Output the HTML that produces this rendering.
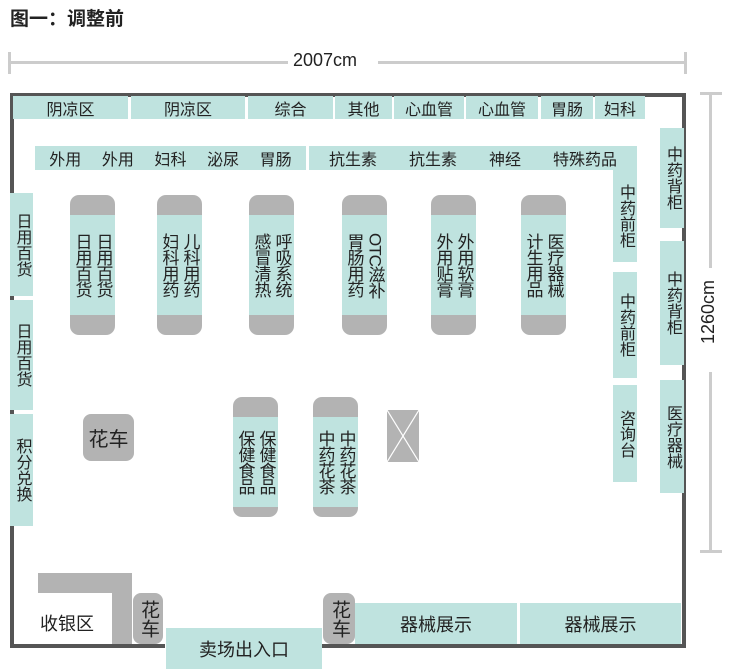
<!DOCTYPE html>
<html><head><meta charset="utf-8"><style>
body{margin:0;width:732px;height:669px;background:#fff;position:relative;overflow:hidden;font-family:"Liberation Sans","Noto Sans CJK SC",sans-serif;color:#222}
div{position:absolute;box-sizing:border-box}
.t{background:#bfe3df;display:flex;align-items:center;justify-content:center;font-size:16px}
.v{writing-mode:vertical-rl;line-height:18px}
.g{background:#b3b3b3}
.w{background:#555}
.sh{width:45px;border-radius:9px;overflow:hidden;background:#b3b3b3}
.sh .in{left:0;right:0;background:#bfe3df;display:flex;align-items:center;justify-content:center}
.sh .in span{writing-mode:vertical-rl;font-size:17px;line-height:21px;letter-spacing:-1px;white-space:nowrap}
</style></head><body>
<div style="left:10px;top:4px;font-size:19px;font-weight:bold">图一：调整前</div>
<!-- horizontal dimension -->
<div style="left:8px;top:52px;width:3px;height:22px;background:#ccc"></div>
<div style="left:684px;top:52px;width:3px;height:22px;background:#ccc"></div>
<div style="left:10px;top:61px;width:278px;height:3px;background:#ccc"></div>
<div style="left:378px;top:61px;width:307px;height:3px;background:#ccc"></div>
<div style="left:293px;top:50px;font-size:18px">2007cm</div>
<!-- vertical dimension -->
<div style="left:700px;top:92px;width:22px;height:3px;background:#ccc"></div>
<div style="left:700px;top:550px;width:22px;height:3px;background:#ccc"></div>
<div style="left:709px;top:93px;width:3px;height:175px;background:#ccc"></div>
<div style="left:709px;top:372px;width:3px;height:180px;background:#ccc"></div>
<div style="left:698px;top:280px;font-size:18px;writing-mode:vertical-rl;transform:rotate(180deg)">1260cm</div>
<!-- walls -->
<div class="w" style="left:10px;top:93px;width:676px;height:4px"></div>
<div class="w" style="left:10px;top:93px;width:4px;height:555px"></div>
<div class="w" style="left:682px;top:93px;width:4px;height:555px"></div>
<div class="w" style="left:10px;top:644px;width:155px;height:4px"></div>
<div class="w" style="left:322px;top:644px;width:364px;height:4px"></div>
<!-- top row -->
<div class="t" style="left:13px;top:96px;width:115px;height:23px">阴凉区</div>
<div class="t" style="left:131px;top:96px;width:114px;height:23px">阴凉区</div>
<div class="t" style="left:248px;top:96px;width:85px;height:23px">综合</div>
<div class="t" style="left:335px;top:96px;width:57px;height:23px">其他</div>
<div class="t" style="left:394px;top:96px;width:70px;height:23px">心血管</div>
<div class="t" style="left:466px;top:96px;width:72px;height:23px">心血管</div>
<div class="t" style="left:541px;top:96px;width:52px;height:23px">胃肠</div>
<div class="t" style="left:595px;top:96px;width:50px;height:23px">妇科</div>
<!-- second row -->
<div class="t" style="left:35px;top:146px;width:271px;height:24px;justify-content:space-around;padding:0 4px"><span>外用</span><span>外用</span><span>妇科</span><span>泌尿</span><span>胃肠</span></div>
<div class="t" style="left:309px;top:146px;width:328px;height:24px;justify-content:space-around;padding:0 4px"><span>抗生素</span><span>抗生素</span><span>神经</span><span>特殊药品</span></div>
<div class="t v" style="left:613px;top:170px;width:24px;height:92px">中药前柜</div>
<div class="t v" style="left:613px;top:272px;width:24px;height:106px">中药前柜</div>
<div class="t v" style="left:613px;top:385px;width:24px;height:97px">咨询台</div>
<!-- right -->
<div class="t v" style="left:660px;top:128px;width:24px;height:100px">中药背柜</div>
<div class="t v" style="left:660px;top:241px;width:24px;height:124px">中药背柜</div>
<div class="t v" style="left:660px;top:380px;width:24px;height:113px">医疗器械</div>
<!-- left -->
<div class="t v" style="left:10px;top:193px;width:23px;height:103px">日用百货</div>
<div class="t v" style="left:10px;top:300px;width:23px;height:110px">日用百货</div>
<div class="t v" style="left:10px;top:414px;width:23px;height:112px">积分兑换</div>
<!-- shelves -->
<div class="sh" style="left:70px;top:195px;height:140px"><div class="in" style="top:20px;bottom:20px"><span>日用百货<br>日用百货</span></div></div>
<div class="sh" style="left:157px;top:195px;height:140px"><div class="in" style="top:20px;bottom:20px"><span>儿科用药<br>妇科用药</span></div></div>
<div class="sh" style="left:249px;top:195px;height:140px"><div class="in" style="top:20px;bottom:20px"><span>呼吸系统<br>感冒清热</span></div></div>
<div class="sh" style="left:342px;top:195px;height:140px"><div class="in" style="top:20px;bottom:20px"><span>OTC滋补<br>胃肠用药</span></div></div>
<div class="sh" style="left:431px;top:195px;height:140px"><div class="in" style="top:20px;bottom:20px"><span>外用软膏<br>外用贴膏</span></div></div>
<div class="sh" style="left:521px;top:195px;height:140px"><div class="in" style="top:20px;bottom:20px"><span>医疗器械<br>计生用品</span></div></div>
<div class="sh" style="left:233px;top:397px;height:120px"><div class="in" style="top:20px;bottom:10px"><span>保健食品<br>保健食品</span></div></div>
<div class="sh" style="left:313px;top:397px;height:120px"><div class="in" style="top:20px;bottom:10px"><span>中药花茶<br>中药花茶</span></div></div>
<!-- X box -->
<div class="g" style="left:387px;top:410px;width:32px;height:52px"><svg width="32" height="52" style="position:absolute;left:0;top:0"><line x1="0" y1="0" x2="32" y2="52" stroke="#fff" stroke-width="1.2"/><line x1="32" y1="0" x2="0" y2="52" stroke="#fff" stroke-width="1.2"/></svg></div>
<!-- flower carts -->
<div class="g" style="left:83px;top:414px;width:51px;height:47px;border-radius:8px;display:flex;align-items:center;justify-content:center;font-size:20px">花车</div>
<div class="g v" style="left:133px;top:593px;width:30px;height:51px;border-radius:8px;display:flex;align-items:center;justify-content:center;font-size:19px;line-height:28px">花车</div>
<div class="g v" style="left:323px;top:593px;width:32px;height:51px;border-radius:8px;display:flex;align-items:center;justify-content:center;font-size:19px;line-height:30px">花车</div>
<!-- cashier -->
<div class="g" style="left:38px;top:573px;width:94px;height:20px"></div>
<div class="g" style="left:112px;top:593px;width:20px;height:51px"></div>
<div style="left:40px;top:610px;font-size:18px">收银区</div>
<div class="t" style="left:166px;top:628px;width:156px;height:41px;font-size:18px">卖场出入口</div>
<div class="t" style="left:355px;top:603px;width:162px;height:41px;font-size:18px">器械展示</div>
<div class="t" style="left:520px;top:603px;width:161px;height:41px;font-size:18px">器械展示</div>
</body></html>
